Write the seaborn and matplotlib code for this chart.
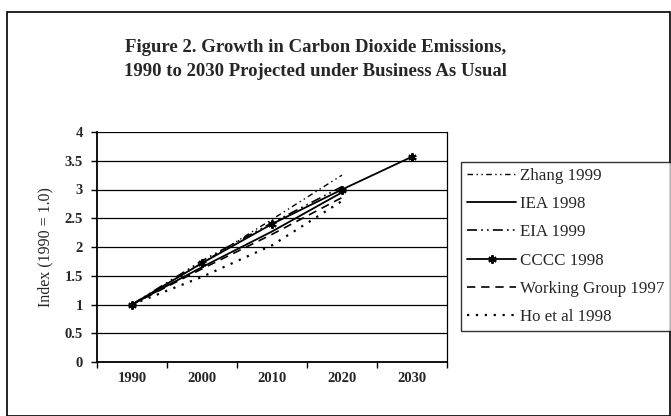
import matplotlib
matplotlib.use("Agg")
import matplotlib.pyplot as plt
from matplotlib.patches import Rectangle
import seaborn as sns
import pandas as pd

# Projected CO2 emission index (1990 = 1.0)
years = [1990, 2000, 2010, 2020, 2030]
series_names = ["Zhang 1999", "IEA 1998", "EIA 1999", "CCCC 1998",
                "Working Group 1997", "Ho et al 1998"]
zhang = [1.0, 1.72, 2.48, 3.25]
iea = [1.0, 1.65, 2.27, 2.95]
eia = [1.0, 1.76, 2.42, 3.05]
cccc = [1.0, 1.72, 2.40, 3.00, 3.57]
working_group = [1.0, 1.62, 2.22, 2.86]
ho = [1.0, 1.48, 2.03, 2.80]
yticks = [0, 0.5, 1, 1.5, 2, 2.5, 3, 3.5, 4]
ytick_labels = ["0", "0.5", "1", "1.5", "2", "2.5", "3", "3.5", "4"]

values = [zhang, iea, eia, cccc, working_group, ho]
rows = []
for name, vals in zip(series_names, values):
    for yr, v in zip(years, vals):
        rows.append({"series": name, "year": yr, "index": v})
df = pd.DataFrame(rows)

sns.set_theme(style="white")
plt.rcParams["font.family"] = ["Liberation Serif", "DejaVu Serif"]

fig = plt.figure(figsize=(6.71, 4.16), dpi=100)
ax = fig.add_axes([97 / 671, 1 - 362 / 416, 350 / 671, 230 / 416])

styles = {
    "Zhang 1999": dict(linestyle=(0, (4, 2.5, 1, 2.5, 1, 2.5)), lw=1.0),
    "IEA 1998": dict(linestyle="-", lw=1.3),
    "EIA 1999": dict(linestyle=(0, (6, 2.5, 1, 2.5, 1, 2.5)), lw=1.2),
    "CCCC 1998": dict(linestyle="-", lw=1.3, marker=(6, 2, 0), markersize=6,
                      markeredgewidth=1.5, markeredgecolor="black"),
    "Working Group 1997": dict(linestyle=(0, (5, 3.5)), lw=1.2),
    "Ho et al 1998": dict(linestyle=(0, (1, 3)), lw=1.6),
}

for name in series_names:
    sub = df[df["series"] == name]
    sns.lineplot(data=sub, x="year", y="index", ax=ax, color="black",
                 label=name, **styles[name])

ax.set_xlim(1985, 2035)
ax.set_ylim(0, 4)
ax.set_yticks(yticks)
ax.set_yticklabels(ytick_labels)
ax.set_xticks(years)
ax.set_xticklabels([str(y) for y in years])
ax.set_xticks([1985, 1995, 2005, 2015, 2025, 2035], minor=True)
ax.tick_params(axis="x", which="major", length=0, pad=7, labelsize=10.5)
ax.tick_params(axis="x", which="minor", length=4, width=1, direction="out",
               color="black", bottom=True)
ax.tick_params(axis="y", length=4, width=1, direction="out", color="black",
               left=True, labelsize=10.5, pad=6)
for lbl in ax.get_xticklabels() + ax.get_yticklabels():
    lbl.set_fontweight("bold")

ax.yaxis.grid(True, color="black", lw=0.9)
ax.xaxis.grid(False)
ax.set_axisbelow(True)
for side in ["left", "bottom"]:
    ax.spines[side].set_color("black")
    ax.spines[side].set_linewidth(1.3)
ax.spines["top"].set_visible(False)
ax.spines["right"].set_color("black")
ax.spines["right"].set_linewidth(0.9)

ax.set_xlabel("")
ax.set_ylabel("Index (1990 = 1.0)", fontsize=11.5, labelpad=8)

handles, labels = ax.get_legend_handles_labels()
if ax.get_legend():
    ax.get_legend().remove()
leg = fig.legend(handles, labels, loc="upper left",
                 bbox_to_anchor=(461 / 671, 1 - 162 / 416),
                 frameon=True, fancybox=False, edgecolor="black",
                 fontsize=12.2, handlelength=2.9, handletextpad=0.25,
                 labelspacing=0.72, borderpad=0.35, borderaxespad=0)
leg.get_frame().set_linewidth(1.0)

fig.text(316 / 671, 1 - 47 / 416,
         "Figure 2. Growth in Carbon Dioxide Emissions,",
         ha="center", va="center", fontsize=13.5, fontweight="bold")
fig.text(316 / 671, 1 - 72 / 416,
         "1990 to 2030 Projected under Business As Usual",
         ha="center", va="center", fontsize=13.5, fontweight="bold")

# outer frame around the whole chart
fig.patches.append(Rectangle((7 / 671, 0), 663 / 671, 1 - 12 / 416,
                             transform=fig.transFigure, fill=False,
                             edgecolor="black", lw=1.2))

fig.savefig("out.png", dpi=100)
